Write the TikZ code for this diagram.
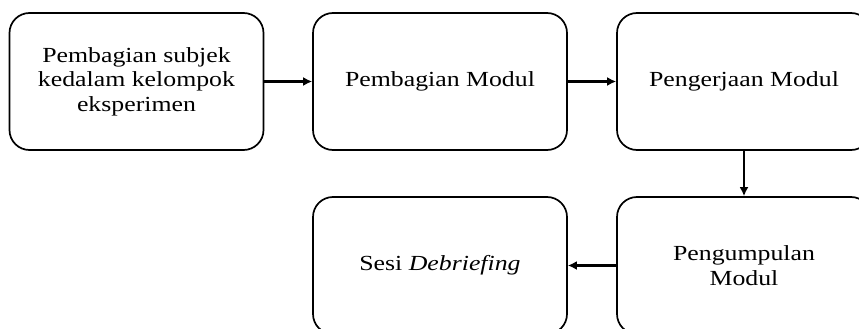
\documentclass[tikz,border=0pt]{standalone}
\usepackage{fontspec}
\setmainfont[FakeStretch=1.2]{Liberation Serif}
\usetikzlibrary{arrows.meta}
\tikzset{
  stagebox/.style={draw, line width=1.7pt, rounded corners=20pt,
    minimum width=254pt, minimum height=137pt, align=center,
    font=\fontsize{21.5}{24.5}\selectfont},
  flow/.style={line width=2.2pt, -{Latex[length=9pt,width=9pt]}}
}
\begin{document}
\begin{tikzpicture}[x=1pt,y=-1pt]
  \useasboundingbox (0,0) rectangle (859,329);
  \clip (0,0) rectangle (859,329);
  \node[stagebox] (split)   at (136.5,81.5) {Pembagian subjek\\kedalam kelompok\\eksperimen};
  \node[stagebox] (handout) at (440,81.5)   {Pembagian Modul};
  \node[stagebox] (work)    at (744,81.5)   {Pengerjaan Modul};
  \node[stagebox] (collect) at (744,265.5)  {Pengumpulan\\Modul};
  \node[stagebox] (debrief) at (440,265.5)  {Sesi \textit{Debriefing}};
  \draw[flow] (split) -- (handout);
  \draw[flow] (handout) -- (work);
  \draw[flow] (work) -- (collect);
  \draw[flow] (collect) -- (debrief);
\end{tikzpicture}
\end{document}
